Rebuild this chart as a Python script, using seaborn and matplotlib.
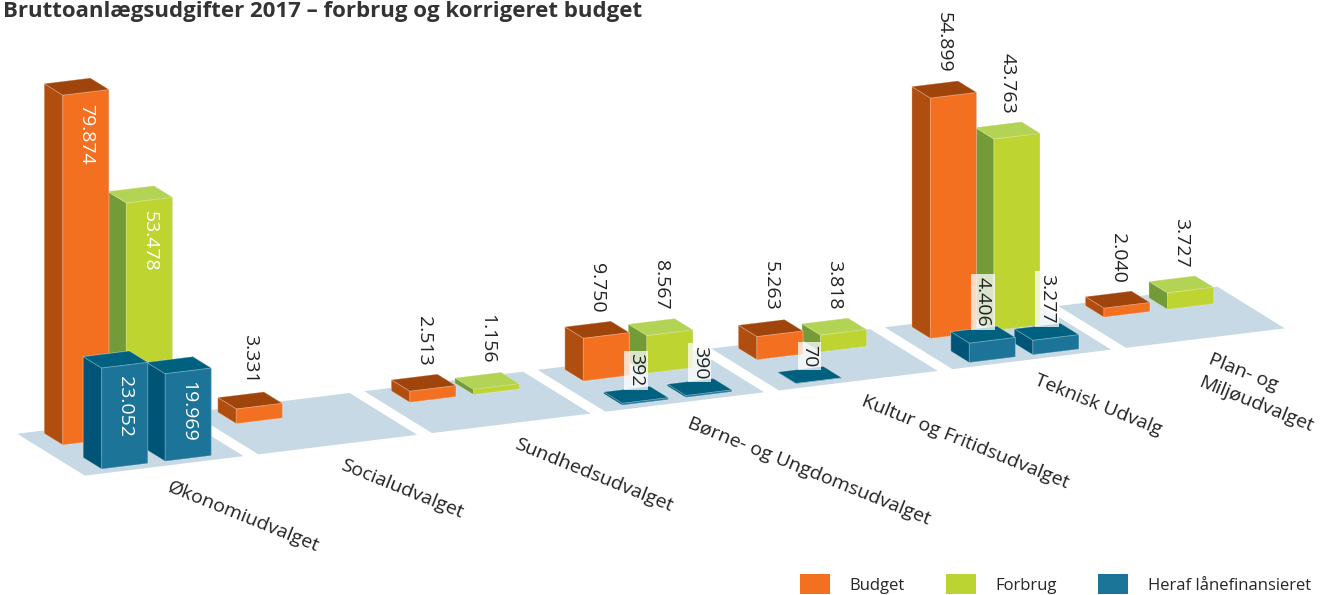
import numpy as np
import matplotlib
matplotlib.use('Agg')
import matplotlib.pyplot as plt
import seaborn as sns
from matplotlib.patches import Patch
from mpl_toolkits.mplot3d import proj3d
from mpl_toolkits.mplot3d.art3d import Poly3DCollection

categories = ['Økonomiudvalget', 'Socialudvalget', 'Sundhedsudvalget',
              'Børne- og Ungdomsudvalget', 'Kultur og Fritidsudvalget',
              'Teknisk Udvalg', 'Plan- og\nMiljøudvalget']
budget = [79874, 3331, 2513, 9750, 5263, 54899, 2040]
forbrug = [53478, 0, 1156, 8567, 3818, 43763, 3727]
laan_budget = [23052, 0, 0, 392, 70, 4406, 0]
laan_forbrug = [19969, 0, 0, 390, 0, 3277, 0]
series_names = ['Budget', 'Forbrug', 'Heraf lånefinansieret']
inside_labels = ['Økonomiudvalget']

sns.set_theme(style='white')
plt.rcParams['font.family'] = ['Open Sans', 'DejaVu Sans']

# front, side, top
pal = {
    'budget': ('#f37021', '#b04e10', '#9f440b'),
    'forbrug': ('#bdd431', '#739c38', '#b2d353'),
    'laan': ('#1c7598', '#005577', '#00607f'),
}
legend_colors = ['#f37021', '#bcd431', '#1a7598']
floor_color = '#c6d9e4'

step = 3.77     # distance between groups
bw = 1.0        # bar width
gap = 0.38      # gap between budget and forbrug
depth = 0.9     # bar depth
row_back = 1.9  # y of budget/forbrug row
vunit = 11060   # value per height unit
zmax = 82000


def fmt(v):
    return f'{v:,}'.replace(',', '.')


def faces(key, n):
    front, side, top = pal[key]
    # bar3d face order: -z, +z, -y, +y, -x, +x
    return [side, top, front, front, side, side] * n


W, H = 13.24, 5.95
fig = plt.figure(figsize=(W, H), dpi=100)
h = W / H
ax = fig.add_axes([-0.0227, (1 - h) / 2 + 0.131, 1, h], projection='3d',
                  computed_zorder=False)
ax.set_proj_type('ortho')
ax.view_init(elev=16, azim=-114)
xlo, xhi = -0.6, (len(categories) - 1) * step + 3.0
ylo, yhi = -0.4, 3.1
ax.set_xlim(xlo, xhi)
ax.set_ylim(ylo, yhi)
ax.set_zlim(0, zmax)
aspect = (xhi - xlo, yhi - ylo, zmax / vunit)
ax.set_box_aspect(aspect, zoom=np.linalg.norm(aspect) / 27.07)
ax.set_axis_off()

edge = dict(edgecolor=(1, 1, 1, 0.3), linewidth=0.6)
n = len(categories)
for i in reversed(range(n)):
    x0 = i * step
    base = (n - 1 - i) * 4 + 1
    floor = Poly3DCollection([[(x0 - 0.5, ylo + 0.1, 0), (x0 + 2.95, ylo + 0.1, 0),
                               (x0 + 2.95, yhi - 0.1, 0), (x0 - 0.5, yhi - 0.1, 0)]],
                             facecolor=floor_color, edgecolor='none', zorder=base)
    ax.add_collection3d(floor)

    # back row: budget and forbrug
    xs, vals, cols = [], [], []
    for key, xb, v in [('budget', x0, budget[i]), ('forbrug', x0 + bw + gap, forbrug[i])]:
        if v > 0:
            xs.append(xb)
            vals.append(v)
            cols += faces(key, 1)
    if xs:
        ax.bar3d(xs, [row_back] * len(xs), [0] * len(xs), bw, depth, vals,
                 color=cols, shade=False, zorder=base + 1, **edge)

    # front row: loan financed
    xs, vals = [], []
    for xb, v in [(x0, laan_budget[i]), (x0 + bw + gap, laan_forbrug[i])]:
        if v > 0:
            xs.append(xb)
            vals.append(v)
    if xs:
        ax.bar3d(xs, [0] * len(xs), [0] * len(xs), bw, depth, vals,
                 color=faces('laan', len(xs)), shade=False, zorder=base + 2, **edge)

# labels are placed in screen space so they can be rotated
fig.canvas.draw()
M = ax.get_proj()


def put(x, y, z, s, **kw):
    px, py, _ = proj3d.proj_transform(x, y, z, M)
    ax.text2D(px, py, s, rotation_mode='anchor', **kw)


for i in range(n):
    x0 = i * step
    inside = categories[i] in inside_labels
    for xb, v in [(x0, budget[i]), (x0 + bw + gap, forbrug[i])]:
        if v <= 0:
            continue
        if inside:
            put(xb + bw / 2, row_back, v - 2600, fmt(v), rotation=-90,
                ha='left', va='center', color='white', fontsize=14, zorder=90)
        else:
            put(xb + bw / 2, row_back + depth / 2, v + 3900, fmt(v), rotation=-90,
                ha='right', va='center', color='#222222', fontsize=14, zorder=90)
    for xb, v in [(x0, laan_budget[i]), (x0 + bw + gap, laan_forbrug[i])]:
        if v <= 0:
            continue
        if inside:
            put(xb + bw / 2, 0, v - 2400, fmt(v), rotation=-90,
                ha='left', va='center', color='white', fontsize=14, zorder=90)
        else:
            put(xb + bw / 2, depth / 2, v + 1800, fmt(v), rotation=-90,
                ha='right', va='center', color='#222222', fontsize=14, zorder=95,
                bbox=dict(boxstyle='square,pad=0.15', fc='white', ec='none',
                          alpha=0.75))
    put(x0 + 1.0, -1.15, 0, categories[i], rotation=-22, ha='left', va='top',
        color='#222222', fontsize=14, linespacing=1.5, zorder=99)

fig.text(0.002, 0.999, 'Bruttoanlægsudgifter 2017 – forbrug og korrigeret budget',
         ha='left', va='top', fontsize=16, fontweight='bold', color='#333333')

handles = [Patch(facecolor=c, edgecolor='none') for c in legend_colors]
fig.legend(handles, series_names, loc='lower right', bbox_to_anchor=(0.995, -0.01),
           ncol=3, frameon=False, fontsize=12, handlelength=1.8, handleheight=1.5,
           handletextpad=1.15, columnspacing=2.5, borderaxespad=0)

fig.savefig('out.png', dpi=100)
